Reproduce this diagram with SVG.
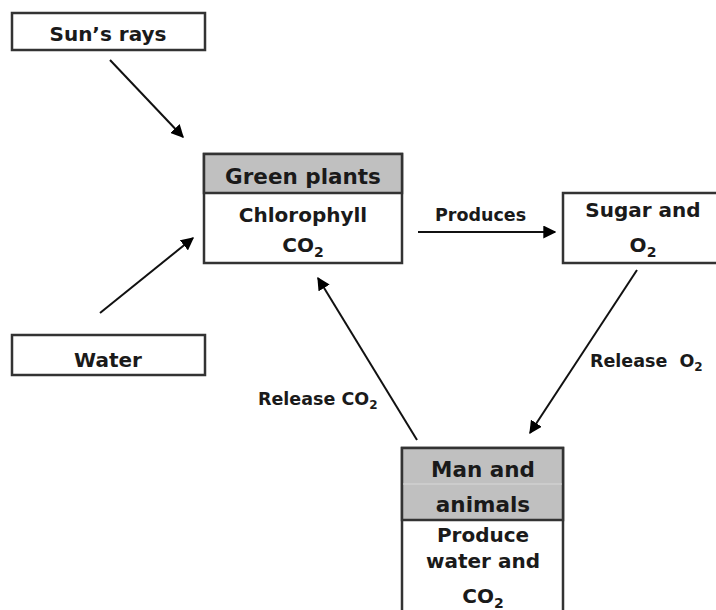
<svg xmlns="http://www.w3.org/2000/svg" width="716" height="610" viewBox="0 0 716 610">
<defs>
<marker id="ah" viewBox="0 0 10 10" refX="9" refY="5" markerWidth="13" markerHeight="13" markerUnits="userSpaceOnUse" orient="auto">
<path d="M0,0 L10,5 L0,10 z" fill="#000"/>
</marker>
<style>
.box{fill:#fff;stroke:#333;stroke-width:2.5}
.hdr{fill:#c0c0c0;stroke:#333;stroke-width:2.5}
.t{font-family:"DejaVu Sans",Verdana,sans-serif;font-weight:bold;font-size:20px;fill:#1a1a1a;text-anchor:middle}
.big{font-size:21.5px}
.lbl{font-family:"DejaVu Sans",Verdana,sans-serif;font-weight:bold;font-size:17.5px;fill:#1a1a1a}
.c{stroke:#111;stroke-width:2;fill:none;marker-end:url(#ah)}
</style>
</defs>
<rect width="716" height="610" fill="#fff"/>
<g id="sun">
<rect class="box" x="12" y="13" width="193" height="37"/>
<text class="t" x="108" y="41">Sun’s rays</text>
</g>
<g id="water">
<rect class="box" x="12" y="335" width="193" height="40"/>
<text class="t" x="108" y="367">Water</text>
</g>
<g id="green">
<rect class="box" x="204" y="154" width="198" height="109"/>
<rect class="hdr" x="204" y="154" width="198" height="39"/>
<text class="t big" x="303" y="184">Green plants</text>
<text class="t" x="303" y="222">Chlorophyll</text>
<text class="t" x="303" y="252">CO<tspan font-size="14" dy="5">2</tspan></text>
</g>
<g id="sugar">
<rect class="box" x="563" y="193" width="160" height="70"/>
<text class="t" x="643" y="217">Sugar and</text>
<text class="t" x="643" y="252">O<tspan font-size="14" dy="5">2</tspan></text>
</g>
<g id="man">
<rect class="box" x="402" y="448" width="161" height="170"/>
<rect class="hdr" x="402" y="448" width="161" height="72"/>
<line x1="403" y1="484" x2="562" y2="484" stroke="#d8d8d8" stroke-width="1"/>
<text class="t big" x="483" y="477">Man and</text>
<text class="t big" x="483" y="512">animals</text>
<text class="t" x="483" y="542">Produce</text>
<text class="t" x="483" y="568">water and</text>
<text class="t" x="483" y="603">CO<tspan font-size="14" dy="5">2</tspan></text>
</g>
<g id="connectors">
<line class="c" x1="110" y1="60" x2="183" y2="137"/>
<line class="c" x1="100" y1="313" x2="193" y2="238"/>
<line class="c" x1="418" y1="232" x2="555" y2="232"/>
<line class="c" x1="637" y1="270" x2="530" y2="433"/>
<line class="c" x1="417" y1="440" x2="318" y2="278"/>
<text class="lbl" x="435" y="221">Produces</text>
<text class="lbl" x="590" y="367">Release <tspan dx="6">O</tspan><tspan font-size="12" dy="4">2</tspan></text>
<text class="lbl" x="258" y="405">Release CO<tspan font-size="12" dy="4">2</tspan></text>
</g>
</svg>
